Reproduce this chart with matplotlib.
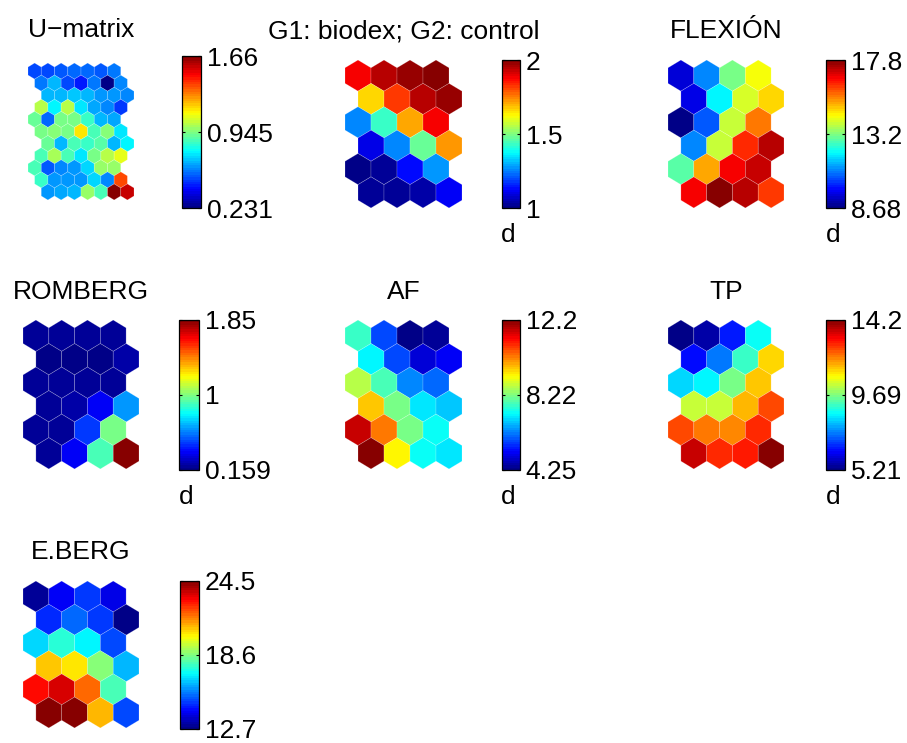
import numpy as np
import matplotlib
matplotlib.use("Agg")
import matplotlib.pyplot as plt
from matplotlib.collections import PolyCollection
from matplotlib.colors import Normalize, ListedColormap
from matplotlib.cm import ScalarMappable

plt.rcParams['font.family'] = ['Liberation Sans', 'DejaVu Sans']

# U-matrix (11 rows x 7 cols, top row first)
umatrix = [
    [0.52, 0.50, 0.53, 0.55, 0.55, 0.53, 0.57],
    [0.57, 0.67, 0.50, 0.45, 0.57, 0.231, 0.59],
    [0.67, 0.67, 0.69, 0.66, 0.62, 0.62, 0.60],
    [1.02, 0.76, 1.03, 0.73, 0.64, 0.60, 0.48],
    [0.91, 0.55, 0.945, 0.93, 0.84, 0.66, 0.64],
    [0.93, 0.96, 0.945, 1.16, 0.87, 0.96, 0.73],
    [0.91, 0.66, 0.87, 0.84, 0.89, 0.66, 0.75],
    [0.87, 1.00, 0.86, 0.73, 0.93, 1.02, 1.09],
    [0.87, 0.53, 0.60, 0.62, 0.72, 0.98, 0.98],
    [0.84, 0.62, 0.62, 0.62, 0.72, 0.59, 1.39],
    [0.62, 0.64, 0.66, 0.98, 0.87, 1.66, 1.55],
]

# component planes (6 rows x 4 cols, top row first)
grupo = [
    [1.88, 1.94, 1.97, 2.00],
    [1.67, 1.82, 1.95, 1.97],
    [1.26, 1.43, 1.71, 1.89],
    [1.10, 1.26, 1.47, 1.72],
    [1.00, 1.03, 1.14, 1.27],
    [1.02, 1.02, 1.04, 1.11],
]
flexion = [
    [9.45, 10.96, 13.15, 14.25],
    [9.60, 11.96, 14.00, 14.70],
    [8.75, 10.60, 13.90, 15.60],
    [11.05, 13.90, 16.30, 17.25],
    [12.90, 15.15, 16.80, 17.20],
    [16.70, 17.80, 17.25, 16.16],
]
romberg = [
    [0.21, 0.21, 0.21, 0.21],
    [0.16, 0.16, 0.16, 0.23],
    [0.21, 0.20, 0.20, 0.21],
    [0.21, 0.23, 0.37, 0.62],
    [0.21, 0.21, 0.45, 0.98],
    [0.21, 0.37, 0.90, 1.85],
]
af = [
    [7.67, 5.84, 4.35, 4.38],
    [7.11, 5.76, 4.93, 5.24],
    [8.62, 7.83, 6.32, 6.04],
    [9.62, 8.22, 7.03, 6.83],
    [11.64, 10.25, 8.14, 7.27],
    [12.20, 9.30, 7.27, 7.03],
]
tp = [
    [5.25, 5.57, 6.56, 8.63],
    [6.47, 7.37, 9.08, 11.14],
    [8.27, 8.45, 9.62, 11.28],
    [10.38, 10.38, 11.41, 12.40],
    [12.40, 12.04, 11.95, 12.76],
    [13.57, 12.76, 12.85, 14.20],
]
eberg = [
    [12.90, 14.00, 14.77, 13.88],
    [14.60, 15.36, 14.77, 12.70],
    [16.70, 17.66, 16.95, 15.06],
    [20.67, 20.43, 18.60, 16.24],
    [22.85, 23.44, 21.85, 18.00],
    [24.50, 24.50, 20.96, 15.06],
]

titles = ['U\u2212matrix', 'G1: biodex; G2: control', 'FLEXI\u00d3N',
          'ROMBERG', 'AF', 'TP', 'E.BERG']
planes = [umatrix, grupo, flexion, romberg, af, tp, eberg]
vmins = [0.231, 1.0, 8.68, 0.159, 4.25, 5.21, 12.7]
vmaxs = [1.66, 2.0, 17.8, 1.85, 12.2, 14.2, 24.5]
tick_labels = [['0.231', '0.945', '1.66'], ['1', '1.5', '2'], ['8.68', '13.2', '17.8'],
               ['0.159', '1', '1.85'], ['4.25', '8.22', '12.2'], ['5.21', '9.69', '14.2'],
               ['12.7', '18.6', '24.5']]
show_d = [False, True, True, True, True, True, False]

# MATLAB-style jet(64)
t = (np.arange(64) + 0.5) / 64
jet_rgb = np.column_stack([np.clip(1.5 - np.abs(4 * t - s), 0, 1) for s in (3, 2, 1)])
cmap = ListedColormap(jet_rgb)

W, H = 907, 743
fig = plt.figure(figsize=(W / 100, H / 100), dpi=100)

# layout in pixels: (left, top, right, bottom)
map_boxes = [(28, 63, 134, 200), (345, 60, 462, 208), (668, 60, 784, 208),
             (23, 320, 139, 469), (345, 320, 462, 469), (668, 320, 784, 469),
             (23, 581, 139, 728)]
cb_boxes = [(182, 56, 201, 208), (502, 60, 520, 208), (826, 60, 845, 208),
            (179, 320, 199, 470), (502, 320, 520, 470), (826, 320, 845, 470),
            (180, 581, 199, 729)]
title_base = [37, 38, 38, 299, 299, 299, 559]


def px_rect(b):
    l, t, r, bt = b
    return [l / W, 1 - bt / H, (r - l) / W, (bt - t) / H]


def hex_poly(cx, cy, rad):
    ang = np.deg2rad(90 + 60 * np.arange(6))
    return np.column_stack([cx + rad * np.cos(ang), cy + rad * np.sin(ang)])


dy = np.sqrt(3) / 2
rad = 1 / np.sqrt(3)

for i, vals in enumerate(planes):
    vals = np.array(vals)
    nrow, ncol = vals.shape
    if i == 0:
        shifts = [0, 0.5, 1, 0.5]
    else:
        shifts = [0, 0.5]
    polys, colors = [], []
    for r in range(nrow):
        for c in range(ncol):
            cx = c + shifts[r % len(shifts)]
            cy = -r * dy
            polys.append(hex_poly(cx, cy, rad))
            colors.append(vals[r, c])
    norm = Normalize(vmins[i], vmaxs[i])
    ax = fig.add_axes(px_rect(map_boxes[i]))
    pc = PolyCollection(polys, cmap=cmap, norm=norm,
                        edgecolors=(1, 1, 1, 0.25), linewidths=0.5)
    pc.set_array(np.array(colors))
    ax.add_collection(pc)
    xmax = ncol - 1 + max(shifts) + 0.5
    ax.set_xlim(-0.5, xmax)
    ax.set_ylim(-(nrow - 1) * dy - rad, rad)
    ax.axis('off')

    l, t_, r_, b = map_boxes[i]
    fig.text((l + r_) / 2 / W, 1 - title_base[i] / H, titles[i],
             ha='center', va='baseline', fontsize=19)

    cax = fig.add_axes(px_rect(cb_boxes[i]))
    cb = fig.colorbar(ScalarMappable(norm=norm, cmap=cmap), cax=cax)
    mid = (vmins[i] + vmaxs[i]) / 2
    cb.set_ticks([vmins[i], mid, vmaxs[i]])
    cb.set_ticklabels(tick_labels[i])
    cb.outline.set_linewidth(0.9)
    cax.tick_params(direction='in', length=2.5, width=0.8, left=True, right=True,
                    labelleft=False, labelright=True, labelsize=19, pad=4)
    if show_d[i]:
        cax.annotate('d', xy=(0.5, 0), xycoords='axes fraction', xytext=(-2, -24.5),
                     textcoords='offset points', ha='center', va='baseline', fontsize=19)

fig.savefig('out.png', dpi=100)
